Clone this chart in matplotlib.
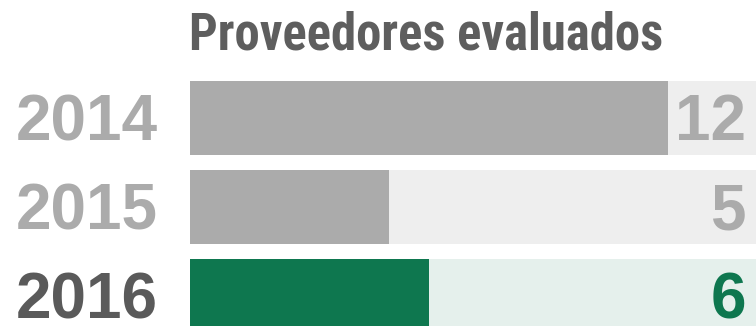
import matplotlib

matplotlib.use("Agg")
import matplotlib.pyplot as plt
import matplotlib.transforms as mtransforms

TITLE = "Proveedores evaluados"
YEARS = ["2014", "2015", "2016"]
VALUES = [12, 5, 6]
HIGHLIGHT = [False, False, True]

XMAX = 14.2

GREY_BAR = "#ababab"
GREY_TRACK = "#eeeeee"
GREEN_BAR = "#0e774f"
GREEN_TRACK = "#e5f0ec"
GREY_TEXT = "#ababab"
DARK_TEXT = "#5a5a5a"
TITLE_TEXT = "#5e5e5e"

W, H = 756, 326
fig = plt.figure(figsize=(W / 100, H / 100), dpi=100)
ax = fig.add_axes([190 / W, 0, 1 - 190 / W, 1])

pitch = 89.0
first_centre = 118.0
ax.set_ylim((H - first_centre) / pitch, -first_centre / pitch)
ax.set_xlim(0, XMAX)
ax.axis("off")

rows = range(len(YEARS))
bar_h = 74 / pitch
ax.barh(rows, [XMAX] * len(YEARS), height=bar_h,
        color=[GREEN_TRACK if hl else GREY_TRACK for hl in HIGHLIGHT], linewidth=0)
ax.barh(rows, VALUES, height=bar_h,
        color=[GREEN_BAR if hl else GREY_BAR for hl in HIGHLIGHT], linewidth=0)

# numbers sit on the baseline, a bit below the row centre
num_font = dict(family=["Liberation Sans", "DejaVu Sans"], weight="bold", fontsize=46)
label_tr = mtransforms.blended_transform_factory(fig.transFigure, ax.transData)
shift = mtransforms.ScaledTranslation(0, -16 / 72, fig.dpi_scale_trans)
for i, (year, val, hl) in enumerate(zip(YEARS, VALUES, HIGHLIGHT)):
    ax.text(158 / W, i, year, transform=label_tr + shift, ha="right", va="baseline",
            color=DARK_TEXT if hl else GREY_TEXT, **num_font)
    ax.text(746 / W, i, str(val), transform=label_tr + shift, ha="right", va="baseline",
            color=GREEN_BAR if hl else GREY_TEXT, **num_font)

fig.text(189 / W, 1 - 50 / H, TITLE, ha="left", va="baseline", color=TITLE_TEXT,
         family=["Roboto Condensed", "DejaVu Sans"], weight="bold", fontsize=36.5)

fig.savefig("out.png", dpi=100)
